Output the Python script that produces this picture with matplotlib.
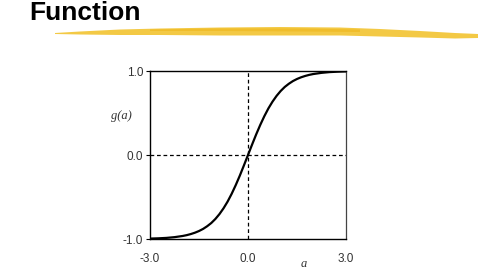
import matplotlib
matplotlib.use("Agg")
import matplotlib.pyplot as plt
from matplotlib.patches import Polygon

# Data
a_vals = [-3.0, -2.75, -2.5, -2.25, -2.0, -1.875, -1.75, -1.625, -1.5, -1.375, -1.25, -1.125,
          -1.0, -0.875, -0.75, -0.625, -0.5, -0.375, -0.25, -0.125,
          0.0, 0.125, 0.25, 0.375, 0.5, 0.625, 0.75, 0.875,
          1.0, 1.125, 1.25, 1.375, 1.5, 1.625, 1.75, 1.875, 2.0, 2.25, 2.5, 2.75, 3.0]
g_vals = [-0.995, -0.992, -0.987, -0.978, -0.964, -0.954, -0.941, -0.925, -0.905, -0.880, -0.848, -0.810,
          -0.762, -0.704, -0.635, -0.555, -0.462, -0.358, -0.245, -0.124,
          0.0, 0.124, 0.245, 0.358, 0.462, 0.555, 0.635, 0.704,
          0.762, 0.810, 0.848, 0.880, 0.905, 0.925, 0.941, 0.954, 0.964, 0.978, 0.987, 0.992, 0.995]
x_ticks = [-3.0, 0.0, 3.0]
y_ticks = [-1.0, 0.0, 1.0]
x_ticklabels = ["-3.0", "0.0", "3.0"]
y_ticklabels = ["-1.0", "0.0", "1.0"]
title_text = "Function"

W, H = 480, 270
fig = plt.figure(figsize=(4.8, 2.7), dpi=100)
fig.patch.set_facecolor("white")

# Title
fig.text(29 / W, 1 - 19.5 / H, title_text, fontsize=19, fontweight="bold",
         family="Liberation Sans", color="black", va="baseline", ha="left")

# Yellow brush stroke underline
def fx(px):
    return px / W

def fy(py):
    return 1 - py / H

top_edge = [(55, 33), (80, 31.5), (120, 29.5), (160, 28.5), (220, 27.5), (280, 27), (340, 27.5),
            (380, 29), (420, 31), (455, 33), (478, 34)]
bot_edge = [(478, 38), (455, 38.5), (420, 37.5), (380, 36.5), (340, 35.5), (280, 35.5),
            (220, 35.5), (160, 35), (120, 35), (80, 34.5), (55, 34)]
pts = [(fx(x), fy(y)) for x, y in top_edge + bot_edge]
fig.patches.append(Polygon(pts, closed=True, transform=fig.transFigure,
                           facecolor="#F2C431", edgecolor="none", alpha=0.9))
top2 = [(150, 29.5), (220, 28.5), (300, 28.5), (360, 29.5)]
bot2 = [(360, 32), (300, 31.5), (220, 31), (150, 31)]
pts2 = [(fx(x), fy(y)) for x, y in top2 + bot2]
fig.patches.append(Polygon(pts2, closed=True, transform=fig.transFigure,
                           facecolor="#EFB820", edgecolor="none", alpha=0.7))

# Main axes
left, right, top, bottom = 150, 346, 71, 239
ax = fig.add_axes([left / W, 1 - bottom / H, (right - left) / W, (bottom - top) / H])
ax.plot(a_vals, g_vals, color="black", lw=1.6, solid_capstyle="butt",
        solid_joinstyle="round", zorder=3)
ax.axvline(0, color="black", lw=0.9, ls=(0, (3, 2.2)), zorder=2)
ax.axhline(0, color="black", lw=0.9, ls=(0, (3, 2.2)), zorder=2)
ax.set_xlim(-3, 3)
ax.set_ylim(-1, 1)

ax.set_xticks(x_ticks)
ax.set_xticklabels(x_ticklabels)
ax.set_yticks(y_ticks)
ax.set_yticklabels(y_ticklabels)
ax.tick_params(axis="x", length=0, pad=10, labelsize=8.5, labelcolor="#333333")
ax.tick_params(axis="y", length=3, width=0.8, pad=2, direction="out",
               labelsize=8.5, labelcolor="#333333")
for lab in ax.get_xticklabels() + ax.get_yticklabels():
    lab.set_family("Liberation Sans")

for side in ["left", "bottom", "top"]:
    ax.spines[side].set_color("black")
    ax.spines[side].set_linewidth(1.0)
ax.spines["right"].set_color("#444444")
ax.spines["right"].set_linewidth(0.9)

fig.text(121 / W, 1 - 116 / H, "g(a)", fontsize=9, family="Liberation Serif",
         style="italic", color="#333333", ha="center", va="center")
fig.text(304 / W, 1 - 264 / H, "a", fontsize=9, family="Liberation Serif",
         style="italic", color="#333333", ha="center", va="center")

fig.savefig("out.png", dpi=100, facecolor="white")
